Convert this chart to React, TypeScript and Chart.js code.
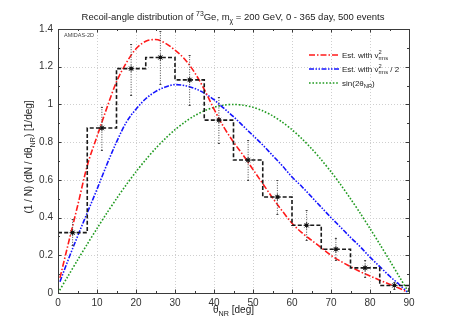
import React, { useEffect, useRef } from "react";
import { Chart, registerables } from "chart.js";
Chart.register(...registerables);

// ---- data ----
const binEdges = [0, 7.5, 15, 22.5, 30, 37.5, 45, 52.5, 60, 67.5, 75, 82.5, 90];
const binCenters = [3.75, 11.25, 18.75, 26.25, 33.75, 41.25, 48.75, 56.25, 63.75, 71.25, 78.75, 86.25];
const histValues = [0.32, 0.875, 1.19, 1.249, 1.13, 0.917, 0.705, 0.509, 0.359, 0.232, 0.133, 0.04];
const errUpper = [0.395, 0.988, 1.323, 1.389, 1.26, 1.04, 0.81, 0.598, 0.439, 0.294, 0.177, 0.058];
const errLower = [0.253, 0.757, 1.049, 1.11, 0.996, 0.793, 0.598, 0.421, 0.28, 0.173, 0.086, 0.02];

const curveAngles = [0.5, 2.5, 5, 7.5, 10, 12.5, 15, 17.5, 20, 22.5, 25, 27.5, 30, 32.5, 35, 37.5, 40, 42.5, 45, 47.5, 50, 52.5, 55, 57.5, 60, 62.5, 65, 67.5, 70, 72.5, 75, 77.5, 80, 82.5, 85, 87.5, 89.5];
const redValues = [0.08, 0.25, 0.46, 0.675, 0.83, 0.98, 1.12, 1.22, 1.295, 1.335, 1.344, 1.325, 1.288, 1.24, 1.17, 1.08, 0.975, 0.88, 0.8, 0.73, 0.655, 0.58, 0.505, 0.435, 0.37, 0.32, 0.28, 0.24, 0.2, 0.168, 0.14, 0.113, 0.09, 0.068, 0.047, 0.025, 0.006];
const blueValues = [0.06, 0.17, 0.3, 0.425, 0.55, 0.68, 0.8, 0.905, 0.975, 1.03, 1.068, 1.092, 1.105, 1.1, 1.085, 1.06, 1.025, 0.98, 0.935, 0.885, 0.835, 0.785, 0.73, 0.675, 0.615, 0.565, 0.51, 0.455, 0.4, 0.348, 0.295, 0.245, 0.19, 0.14, 0.09, 0.045, 0.006];
const greenAngles = [0, 2.5, 5, 7.5, 10, 12.5, 15, 17.5, 20, 22.5, 25, 27.5, 30, 32.5, 35, 37.5, 40, 42.5, 45, 47.5, 50, 52.5, 55, 57.5, 60, 62.5, 65, 67.5, 70, 72.5, 75, 77.5, 80, 82.5, 85, 87.5, 90];
const greenValues = [0, 0.087, 0.174, 0.259, 0.342, 0.423, 0.5, 0.574, 0.643, 0.707, 0.766, 0.819, 0.866, 0.906, 0.94, 0.966, 0.985, 0.996, 1.0, 0.996, 0.985, 0.966, 0.94, 0.906, 0.866, 0.819, 0.766, 0.707, 0.643, 0.574, 0.5, 0.423, 0.342, 0.259, 0.174, 0.087, 0];

const xTicks = [0, 10, 20, 30, 40, 50, 60, 70, 80, 90];
const yTicks = [0, 0.2, 0.4, 0.6, 0.8, 1, 1.2, 1.4];

const FONT = '"Liberation Sans", Arial, Helvetica, sans-serif';
const RED = "#ff1a1a";
const BLUE = "#1414ff";
const GREEN = "#1f9a1f";
const RED_DASH = [6, 2, 1.5, 2];
const BLUE_DASH = [5, 1.5, 1.5, 1.5, 1.5, 1.5];
const GREEN_DASH = [1.6, 1.8];

type Seg = { t: string; k?: "sup" | "sub" | "supsub"; t2?: string };

function segWidth(ctx: CanvasRenderingContext2D, s: Seg, size: number) {
  if (!s.k) {
    ctx.font = `${size}px ${FONT}`;
    return ctx.measureText(s.t).width;
  }
  ctx.font = `${size * 0.72}px ${FONT}`;
  if (s.k === "supsub") return Math.max(ctx.measureText(s.t).width, ctx.measureText(s.t2 || "").width);
  return ctx.measureText(s.t).width;
}

function drawRich(ctx: CanvasRenderingContext2D, segs: Seg[], x: number, y: number, size: number, align: "center" | "left", color: string) {
  let total = 0;
  for (const s of segs) total += segWidth(ctx, s, size);
  let cx = align === "center" ? x - total / 2 : x;
  ctx.fillStyle = color;
  ctx.textAlign = "left";
  ctx.textBaseline = "alphabetic";
  for (const s of segs) {
    const w = segWidth(ctx, s, size);
    if (!s.k) {
      ctx.font = `${size}px ${FONT}`;
      ctx.fillText(s.t, cx, y);
    } else {
      ctx.font = `${size * 0.72}px ${FONT}`;
      if (s.k === "sup") ctx.fillText(s.t, cx, y - size * 0.42);
      else if (s.k === "sub") ctx.fillText(s.t, cx, y + size * 0.3);
      else {
        ctx.fillText(s.t, cx, y - size * 0.42);
        ctx.fillText(s.t2 || "", cx, y + size * 0.3);
      }
    }
    cx += w;
  }
}

const decorPlugin = {
  id: "decor",
  beforeDatasetsDraw(chart: any) {
    const { ctx, chartArea: a, scales } = chart;
    ctx.save();
    ctx.strokeStyle = "#cfcfcf";
    ctx.lineWidth = 1;
    ctx.setLineDash([1, 2]);
    for (const v of xTicks) {
      const px = Math.round(scales.x.getPixelForValue(v)) + 0.5;
      ctx.beginPath();
      ctx.moveTo(px, a.top);
      ctx.lineTo(px, a.bottom);
      ctx.stroke();
    }
    for (const v of yTicks) {
      const py = Math.round(scales.y.getPixelForValue(v)) + 0.5;
      ctx.beginPath();
      ctx.moveTo(a.left, py);
      ctx.lineTo(a.right, py);
      ctx.stroke();
    }
    ctx.restore();
  },
  afterDatasetsDraw(chart: any) {
    const { ctx, chartArea: a, scales } = chart;
    ctx.save();
    // error-bar caps
    ctx.strokeStyle = "#444";
    ctx.lineWidth = 1;
    ctx.setLineDash([]);
    for (let i = 0; i < binCenters.length; i++) {
      const px = scales.x.getPixelForValue(binCenters[i]);
      for (const v of [errUpper[i], errLower[i]]) {
        const py = Math.round(scales.y.getPixelForValue(v)) + 0.5;
        ctx.beginPath();
        ctx.moveTo(px - 1, py);
        ctx.lineTo(px + 1, py);
        ctx.stroke();
      }
    }
    // frame
    ctx.strokeStyle = "#3a3a3a";
    ctx.lineWidth = 1;
    ctx.strokeRect(Math.round(a.left) + 0.5, Math.round(a.top) + 0.5, Math.round(a.right - a.left), Math.round(a.bottom - a.top));
    // inward ticks
    ctx.beginPath();
    for (let v = 0; v <= 90; v += 5) {
      const px = Math.round(scales.x.getPixelForValue(v)) + 0.5;
      const len = v % 10 === 0 ? 3.5 : 2;
      ctx.moveTo(px, a.bottom);
      ctx.lineTo(px, a.bottom - len);
      ctx.moveTo(px, a.top);
      ctx.lineTo(px, a.top + len);
    }
    for (let k = 0; k <= 14; k++) {
      const py = Math.round(scales.y.getPixelForValue(k / 10)) + 0.5;
      const len = k % 2 === 0 ? 3.5 : 2;
      ctx.moveTo(a.left, py);
      ctx.lineTo(a.left + len, py);
      ctx.moveTo(a.right, py);
      ctx.lineTo(a.right - len, py);
    }
    ctx.stroke();
    ctx.restore();
  },
  afterDraw(chart: any) {
    const { ctx, chartArea: a } = chart;
    ctx.save();
    // title
    drawRich(
      ctx,
      [
        { t: "Recoil-angle distribution of " },
        { t: "73", k: "sup" },
        { t: "Ge, m" },
        { t: "\u03c7", k: "sub" },
        { t: " = 200 GeV, 0 - 365 day, 500 events" },
      ],
      233,
      20,
      9.5,
      "center",
      "#222"
    );
    // x title
    drawRich(ctx, [{ t: "\u03b8" }, { t: "NR", k: "sub" }, { t: " [deg]" }], (a.left + a.right) / 2, 313, 10, "center", "#222");
    // y title
    ctx.save();
    ctx.translate(32, (a.top + a.bottom) / 2 - 4);
    ctx.rotate(-Math.PI / 2);
    drawRich(ctx, [{ t: "(1 / N) (dN / d\u03b8" }, { t: "NR", k: "sub" }, { t: ") [1/deg]" }], 0, 0, 10, "center", "#222");
    ctx.restore();
    // AMIDAS label
    ctx.font = `5.5px ${FONT}`;
    ctx.fillStyle = "#444";
    ctx.textAlign = "left";
    ctx.fillText("AMIDAS-2D", a.left + 6, a.top + 8);
    // legend
    const rows: { c: string; d: number[]; segs: Seg[] }[] = [
      { c: RED, d: RED_DASH, segs: [{ t: "Est. with v" }, { t: "2", k: "supsub", t2: "rms" }] },
      { c: BLUE, d: BLUE_DASH, segs: [{ t: "Est. with v" }, { t: "2", k: "supsub", t2: "rms" }, { t: " / 2" }] },
      { c: GREEN, d: GREEN_DASH, segs: [{ t: "sin(2\u03b8" }, { t: "NR", k: "sub" }, { t: ")" }] },
    ];
    rows.forEach((r, i) => {
      const y = 55 + i * 14;
      ctx.strokeStyle = r.c;
      ctx.lineWidth = 1.6;
      ctx.setLineDash(r.d);
      ctx.beginPath();
      ctx.moveTo(309, y);
      ctx.lineTo(339, y);
      ctx.stroke();
      ctx.setLineDash([]);
      drawRich(ctx, r.segs, 342, y + 2.5, 8, "left", "#222");
    });
    ctx.restore();
  },
};

export default function App() {
  const ref = useRef<HTMLCanvasElement>(null);
  useEffect(() => {
    document.body.style.margin = "0";
    const canvas = ref.current;
    if (!canvas) return;

    const histPoints: { x: number; y: number }[] = histValues.map((v, i) => ({ x: binEdges[i], y: v }));
    histPoints.push({ x: binEdges[binEdges.length - 1], y: histValues[histValues.length - 1] });
    histPoints.push({ x: binEdges[binEdges.length - 1], y: 0 });

    const errPoints: ({ x: number; y: number | null })[] = [];
    binCenters.forEach((c, i) => {
      errPoints.push({ x: c, y: errLower[i] });
      errPoints.push({ x: c, y: errUpper[i] });
      errPoints.push({ x: c, y: null });
    });

    const markerPoints = binCenters.map((c, i) => ({ x: c, y: histValues[i] }));

    const chart = new Chart(canvas, {
      type: "line",
      data: {
        datasets: [
          {
            label: "markers",
            data: markerPoints,
            showLine: false,
            pointStyle: "rect",
            pointRadius: 2.2,
            backgroundColor: "#111",
            borderColor: "#111",
            borderWidth: 0,
          },
          {
            label: "markers-cross",
            data: markerPoints,
            showLine: false,
            pointStyle: "star",
            pointRadius: 3.2,
            backgroundColor: "#111",
            borderColor: "#222",
            borderWidth: 0.8,
          },
          {
            label: "histogram",
            data: histPoints,
            stepped: "before",
            borderColor: "#1a1a1a",
            borderWidth: 1.6,
            borderDash: [4, 2.2],
            pointRadius: 0,
            fill: false,
          },
          {
            label: "errors",
            data: errPoints,
            borderColor: "#444",
            borderWidth: 1,
            borderDash: [1, 1.5],
            pointRadius: 0,
            spanGaps: false,
            fill: false,
          },
          {
            label: "Est. with v2rms",
            data: curveAngles.map((x, i) => ({ x, y: redValues[i] })),
            borderColor: RED,
            borderWidth: 1.6,
            borderDash: RED_DASH,
            pointRadius: 0,
            cubicInterpolationMode: "monotone",
            fill: false,
          },
          {
            label: "Est. with v2rms / 2",
            data: curveAngles.map((x, i) => ({ x, y: blueValues[i] })),
            borderColor: BLUE,
            borderWidth: 1.6,
            borderDash: BLUE_DASH,
            pointRadius: 0,
            cubicInterpolationMode: "monotone",
            fill: false,
          },
          {
            label: "sin(2thetaNR)",
            data: greenAngles.map((x, i) => ({ x, y: greenValues[i] })),
            borderColor: GREEN,
            borderWidth: 1.6,
            borderDash: GREEN_DASH,
            pointRadius: 0,
            tension: 0.3,
            fill: false,
          },
        ] as any,
      },
      options: {
        animation: false,
        responsive: false,
        devicePixelRatio: 1,
        layout: { padding: { left: 0, right: 49, top: 29, bottom: 0 } },
        plugins: { legend: { display: false }, tooltip: { enabled: false }, title: { display: false } },
        scales: {
          x: {
            type: "linear",
            min: 0,
            max: 90,
            afterBuildTicks: (s: any) => {
              s.ticks = xTicks.map((v) => ({ value: v }));
            },
            afterFit: (s: any) => {
              s.height = 28;
            },
            grid: { display: false, drawTicks: false },
            border: { display: false },
            ticks: { padding: 4, color: "#333", font: { family: FONT, size: 10 }, maxRotation: 0, callback: (v: any) => String(v) },
          },
          y: {
            type: "linear",
            min: 0,
            max: 1.4,
            afterBuildTicks: (s: any) => {
              s.ticks = yTicks.map((v) => ({ value: v }));
            },
            afterFit: (s: any) => {
              s.width = 58;
            },
            grid: { display: false, drawTicks: false },
            border: { display: false },
            ticks: { padding: 5, color: "#333", font: { family: FONT, size: 10 }, callback: (v: any) => String(Math.round(Number(v) * 10) / 10) },
          },
        },
      } as any,
      plugins: [decorPlugin],
    });
    return () => chart.destroy();
  }, []);
  return (
    <div style={{ width: 458, height: 321 }}>
      <canvas ref={ref} width={458} height={321} style={{ display: "block" }} />
    </div>
  );
}
